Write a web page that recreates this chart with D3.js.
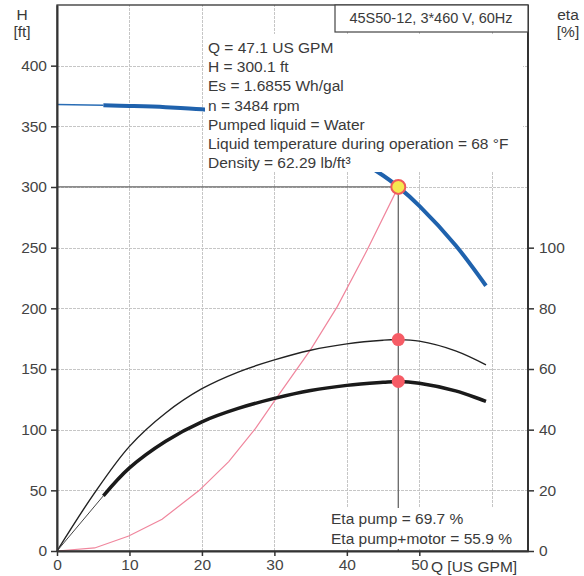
<!DOCTYPE html>
<html>
<head>
<meta charset="utf-8">
<script src="https://cdn.jsdelivr.net/npm/d3@7"></script>
<style>
  body { margin: 0; background: #fff; }
  svg { font-family: "Liberation Sans", Arial, sans-serif; }
</style>
</head>
<body>
<svg id="pumpChart"></svg>
<script>
// tick labels
const qTicks = [0, 10, 20, 30, 40, 50]
const hTicks = [0, 50, 100, 150, 200, 250, 300, 350, 400]
const etaTicks = [0, 20, 40, 60, 80, 100]
const gridQ = [10, 20, 30, 40, 50, 60]

// pump head curve (H in ft)
const headQ = [0, 6.4, 10, 15, 20, 25, 30, 35, 40, 45, 47.1, 50, 55, 59.2]
const headH = [368, 367.3, 366.8, 365.8, 364, 360, 352, 341, 327, 309.5, 300.1, 284.5, 252, 218.6]

// eta pump (thin)
const etaPumpQ = [0, 5, 10, 15, 20, 25, 30, 35, 40, 45, 47.1, 50, 55, 59.2]
const etaPump = [0, 18.5, 34.5, 45.5, 53.5, 59, 63, 66.2, 68.3, 69.5, 69.7, 69.2, 66, 61.4]

// eta pump+motor (thick)
const etaTotalQ = [0, 6.4, 10, 15, 20, 25, 30, 35, 40, 45, 47.1, 50, 55, 59.2]
const etaTotal = [0, 18.2, 27.4, 36.2, 42.6, 47, 50.3, 52.9, 54.6, 55.6, 55.9, 55.3, 52.8, 49.3]

// system curve (pink)
const sysQ = [0, 5.2, 9.9, 14.5, 19.6, 23.7, 27.4, 30.4, 35, 38.7, 42.8, 47.1]
const sysH = [0, 2.5, 12.4, 26.2, 49.8, 73.7, 101, 127, 166, 201.6, 248, 300.1]

// duty point
const dutyQ = 47.1
const dutyH = 300.1
const dutyEta = [69.7, 55.9]

const infoLines = [
  "Q = 47.1 US GPM",
  "H = 300.1 ft",
  "Es = 1.6855 Wh/gal",
  "n = 3484 rpm",
  "Pumped liquid = Water",
  "Liquid temperature during operation = 68 °F",
  "Density = 62.29 lb/ft³"
]
const etaLines = ["Eta pump = 69.7 %", "Eta pump+motor = 55.9 %"]
const title = "45S50-12, 3*460 V, 60Hz"

function drawChart() {
  const svgWidth = 584
  const svgHeight = 576
  const margin = ({top: 5, right: 56, bottom: 25, left: 57})

  const svg = d3.select("#pumpChart")
    .attr("width", svgWidth)
    .attr("height", svgHeight)

  const x = d3.scaleLinear().domain([0, 65]).range([margin.left, svgWidth - margin.right])
  const yH = d3.scaleLinear().domain([0, 450]).range([svgHeight - margin.bottom, margin.top])
  const yEta = d3.scaleLinear().domain([0, 180]).range([svgHeight - margin.bottom, margin.top])

  const textCol = "#3a3a3a"
  const fs = "15.5px"

  // grid (light, dotted)
  const grid = svg.append("g").attr("class", "grid")
  grid.selectAll("line.h")
    .data(hTicks.filter(d => d > 0))
    .join("line")
    .attr("class", "h")
    .attr("x1", x(0)).attr("x2", x(65))
    .attr("y1", d => Math.round(yH(d)) + 0.5).attr("y2", d => Math.round(yH(d)) + 0.5)
    .style("stroke", "#c6c6c6").style("stroke-width", "1px").style("stroke-dasharray", "3,1")
  grid.selectAll("line.v")
    .data(gridQ)
    .join("line")
    .attr("class", "v")
    .attr("x1", d => Math.round(x(d)) + 0.5).attr("x2", d => Math.round(x(d)) + 0.5)
    .attr("y1", yH(0)).attr("y2", yH(450))
    .style("stroke", "#c6c6c6").style("stroke-width", "1px").style("stroke-dasharray", "3,1")

  const smooth = d3.curveCatmullRom.alpha(0.5)

  // system curve
  const sysLine = d3.line().x(i => x(sysQ[i])).y(i => yH(sysH[i]))
  svg.append("path")
    .attr("d", sysLine(d3.range(sysQ.length)))
    .attr("fill", "none").attr("stroke", "#f0869d").attr("stroke-width", 1.2)

  // head curve: thin start then thick
  const headLine = d3.line().x(i => x(headQ[i])).y(i => yH(headH[i])).curve(smooth)
  svg.append("path")
    .attr("d", headLine([0, 1]))
    .attr("fill", "none").attr("stroke", "#2a6db5").attr("stroke-width", 1.5)
  svg.append("path")
    .attr("d", headLine(d3.range(1, headQ.length)))
    .attr("fill", "none").attr("stroke", "#1f62ad").attr("stroke-width", 4)

  // eta pump
  const etaPumpLine = d3.line().x(i => x(etaPumpQ[i])).y(i => yEta(etaPump[i])).curve(smooth)
  svg.append("path")
    .attr("d", etaPumpLine(d3.range(etaPumpQ.length)))
    .attr("fill", "none").attr("stroke", "#222").attr("stroke-width", 1.4)

  // eta pump+motor
  const etaTotalLine = d3.line().x(i => x(etaTotalQ[i])).y(i => yEta(etaTotal[i])).curve(smooth)
  svg.append("path")
    .attr("d", etaTotalLine([0, 1]))
    .attr("fill", "none").attr("stroke", "#444").attr("stroke-width", 1)
  svg.append("path")
    .attr("d", etaTotalLine(d3.range(1, etaTotalQ.length)))
    .attr("fill", "none").attr("stroke", "#1a1a1a").attr("stroke-width", 3.5)

  // duty point lines
  svg.append("line")
    .attr("x1", x(0)).attr("x2", x(dutyQ))
    .attr("y1", yH(dutyH)).attr("y2", yH(dutyH))
    .attr("stroke", "#666").attr("stroke-width", 1.3)
  svg.append("line")
    .attr("x1", x(dutyQ)).attr("x2", x(dutyQ))
    .attr("y1", yH(dutyH)).attr("y2", yH(0))
    .attr("stroke", "#666").attr("stroke-width", 1.3)

  // white text backgrounds
  svg.append("rect")
    .attr("x", 205).attr("y", 34).attr("width", 318).attr("height", 138)
    .attr("fill", "#fff")
  svg.append("rect")
    .attr("x", 327).attr("y", 508).attr("width", 195).attr("height", 41)
    .attr("fill", "#fff")

  // markers
  svg.selectAll("circle.eta")
    .data(dutyEta)
    .join("circle")
    .attr("class", "eta")
    .attr("cx", x(dutyQ)).attr("cy", d => yEta(d))
    .attr("r", 6.5).attr("fill", "#f65c66")
  svg.append("circle")
    .attr("cx", x(dutyQ)).attr("cy", yH(dutyH))
    .attr("r", 7).attr("fill", "#f6e84e")
    .attr("stroke", "#f05a5a").attr("stroke-width", 2)

  // frame
  svg.append("rect")
    .attr("x", x(0)).attr("y", yH(450))
    .attr("width", x(65) - x(0)).attr("height", yH(0) - yH(450))
    .attr("fill", "none").attr("stroke", "#333").attr("stroke-width", 1.3)

  // axes
  const styleAxis = g => {
    g.select(".domain").attr("stroke", "#333").attr("stroke-width", 2)
    g.selectAll(".tick line").attr("stroke", "#333").attr("stroke-width", 1.5)
    g.selectAll(".tick text").attr("fill", "#444").style("font-size", fs)
  }
  svg.append("g")
    .attr("transform", `translate(${x(0)},0)`)
    .call(d3.axisLeft(yH).tickValues(hTicks).tickSize(6).tickSizeOuter(0).tickPadding(4))
    .call(styleAxis)
  svg.append("g")
    .attr("transform", `translate(${x(65)},0)`)
    .call(d3.axisRight(yEta).tickValues(etaTicks).tickSize(6).tickSizeOuter(0).tickPadding(5))
    .call(styleAxis)
    .select(".domain").attr("d", `M0,${yEta(0)}V${yEta(180)}`)
  svg.append("g")
    .attr("transform", `translate(0,${yH(0)})`)
    .call(d3.axisBottom(x).tickValues(qTicks).tickSize(5).tickSizeOuter(0).tickPadding(3))
    .call(styleAxis)

  // axis titles
  const addText = (tx, ty, s, anchor, size) => svg.append("text")
    .attr("x", tx).attr("y", ty).attr("text-anchor", anchor || "start")
    .attr("fill", textCol).style("font-size", size || fs).text(s)
  addText(22, 20, "H", "middle")
  addText(22, 37, "[ft]", "middle")
  addText(568, 20, "eta", "middle")
  addText(568, 37, "[%]", "middle")
  addText(431, 572, "Q [US GPM]")

  // title box
  svg.append("rect")
    .attr("x", 335).attr("y", yH(450)).attr("width", x(65) - 335).attr("height", 27)
    .attr("fill", "#fff").attr("stroke", "#444").attr("stroke-width", 1.2)
  addText(431, 23, title, "middle", "14.5px")

  // info text
  infoLines.forEach((s, i) => addText(208, 53 + i * 19.2, s))
  etaLines.forEach((s, i) => addText(331, 524 + i * 20, s))
}

drawChart()
</script>
</body>
</html>
